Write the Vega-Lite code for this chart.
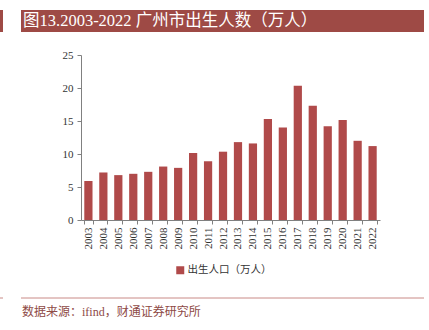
{
  "$schema": "https://vega.github.io/schema/vega-lite/v6.json",
  "width": 299,
  "height": 165,
  "autosize": {"type": "none"},
  "padding": {"left": 81, "top": 55, "right": 49, "bottom": 110},
  "background": "white",
  "config": {
    "view": {"stroke": null},
    "font": "Liberation Serif, Noto Sans CJK SC",
    "axis": {"labelFont": "Liberation Serif", "labelColor": "#333333", "labelFontSize": 11, "domainColor": "#808080", "tickColor": "#808080", "grid": false}
  },
  "layer": [
    {
      "data": {"values": [
        {"year": "2003", "v": 5.9, "s": "出生人口（万人）"},
        {"year": "2004", "v": 7.2, "s": "出生人口（万人）"},
        {"year": "2005", "v": 6.8, "s": "出生人口（万人）"},
        {"year": "2006", "v": 7.0, "s": "出生人口（万人）"},
        {"year": "2007", "v": 7.3, "s": "出生人口（万人）"},
        {"year": "2008", "v": 8.1, "s": "出生人口（万人）"},
        {"year": "2009", "v": 7.9, "s": "出生人口（万人）"},
        {"year": "2010", "v": 10.15, "s": "出生人口（万人）"},
        {"year": "2011", "v": 8.9, "s": "出生人口（万人）"},
        {"year": "2012", "v": 10.35, "s": "出生人口（万人）"},
        {"year": "2013", "v": 11.8, "s": "出生人口（万人）"},
        {"year": "2014", "v": 11.6, "s": "出生人口（万人）"},
        {"year": "2015", "v": 15.3, "s": "出生人口（万人）"},
        {"year": "2016", "v": 14.0, "s": "出生人口（万人）"},
        {"year": "2017", "v": 20.35, "s": "出生人口（万人）"},
        {"year": "2018", "v": 17.3, "s": "出生人口（万人）"},
        {"year": "2019", "v": 14.2, "s": "出生人口（万人）"},
        {"year": "2020", "v": 15.15, "s": "出生人口（万人）"},
        {"year": "2021", "v": 12.0, "s": "出生人口（万人）"},
        {"year": "2022", "v": 11.2, "s": "出生人口（万人）"}
      ]},
      "mark": {"type": "bar"},
      "encoding": {
        "x": {"field": "year", "type": "ordinal", "title": null,
              "scale": {"paddingInner": 0.45, "paddingOuter": 0.22},
              "axis": {"labelAngle": -90, "tickBand": "extent", "tickSize": 4, "labelPadding": 3}},
        "y": {"field": "v", "type": "quantitative", "title": null,
              "scale": {"domain": [0, 25]},
              "axis": {"values": [0, 5, 10, 15, 20, 25], "tickSize": 4, "labelPadding": 4}},
        "color": {"field": "s", "type": "nominal",
                  "scale": {"range": ["#B04A4A"]},
                  "legend": {"title": null, "orient": "none", "legendX": 94, "legendY": 210,
                             "symbolType": "square", "symbolSize": 64, "symbolStrokeWidth": 0,
                             "labelFont": "Noto Sans CJK SC", "labelFontSize": 10.5, "labelColor": "#333333", "labelOffset": 2}}
      }
    },
    {
      "data": {"values": [{"a": 1}]},
      "mark": {"type": "rect", "color": "#9E4A45"},
      "encoding": {"x": {"value": -60}, "x2": {"value": 343}, "y": {"value": -45}, "y2": {"value": -23}}
    },
    {
      "data": {"values": [{"a": 1}]},
      "mark": {"type": "rect", "color": "#9E4A45"},
      "encoding": {"x": {"value": -81}, "x2": {"value": -78}, "y": {"value": -45}, "y2": {"value": -23}}
    },
    {
      "data": {"values": [{"t": "图13.2003-2022 广州市出生人数（万人）"}]},
      "mark": {"type": "text", "color": "white", "align": "left", "baseline": "middle", "fontSize": 16.5, "font": "Liberation Serif, Noto Sans CJK SC"},
      "encoding": {"text": {"field": "t"}, "x": {"value": -58}, "y": {"value": -34}}
    },
    {
      "data": {"values": [{"a": 1}]},
      "mark": {"type": "rule", "color": "#C98A86", "strokeWidth": 1},
      "encoding": {"x": {"value": -60}, "x2": {"value": 343}, "y": {"value": 243}}
    },
    {
      "data": {"values": [{"a": 1}]},
      "mark": {"type": "rule", "color": "#C98A86", "strokeWidth": 1},
      "encoding": {"x": {"value": -81}, "x2": {"value": -78}, "y": {"value": 243}}
    },
    {
      "data": {"values": [{"t": "数据来源：ifind，财通证券研究所"}]},
      "mark": {"type": "text", "color": "#8E4A46", "align": "left", "baseline": "middle", "fontSize": 12, "font": "Liberation Serif, Noto Sans CJK SC"},
      "encoding": {"text": {"field": "t"}, "x": {"value": -59}, "y": {"value": 257}}
    }
  ]
}
